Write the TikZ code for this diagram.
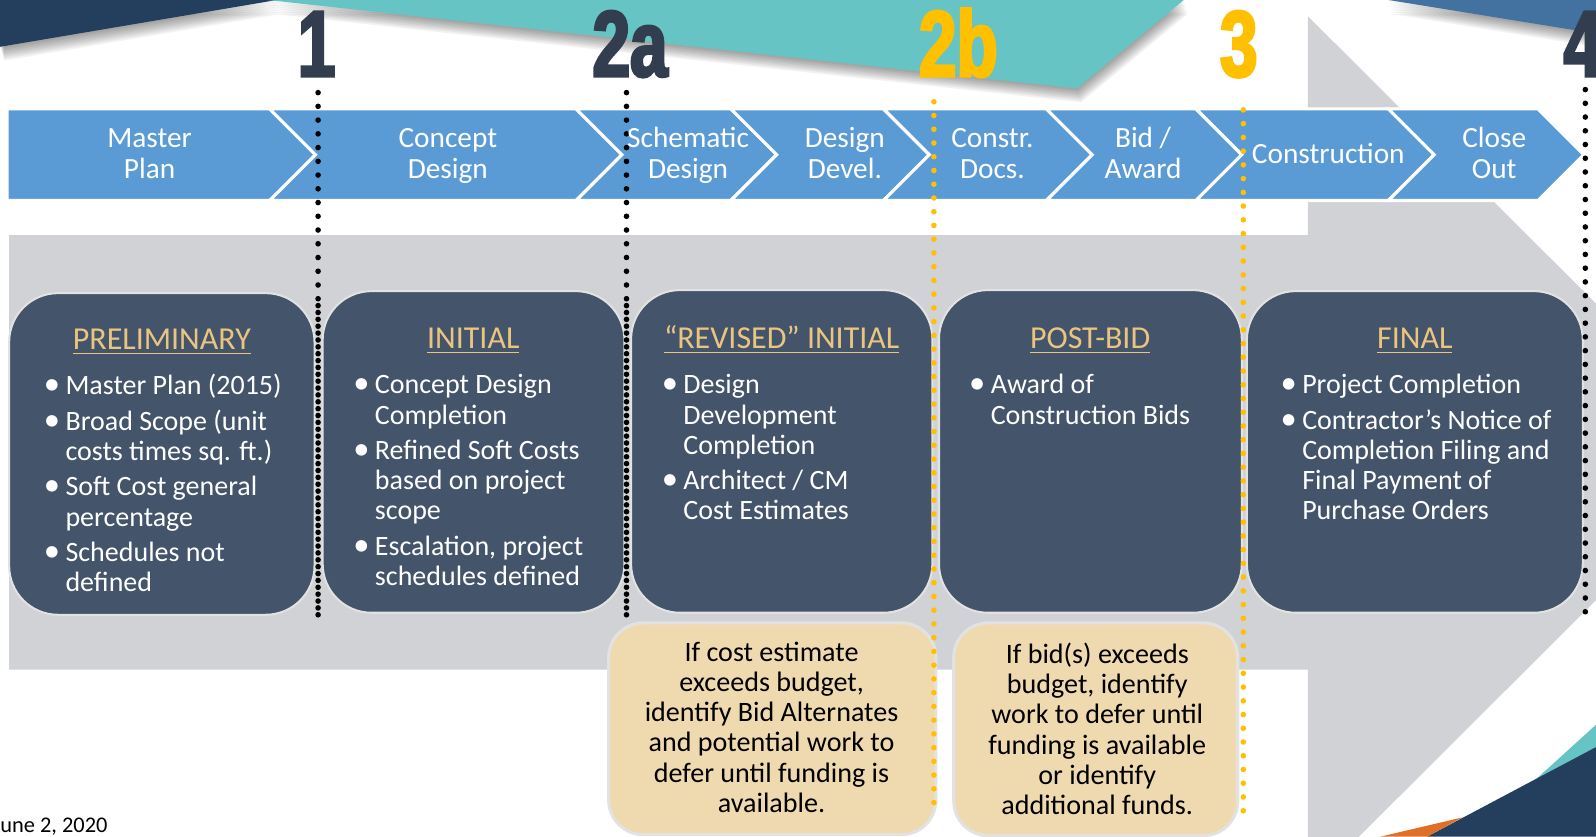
\documentclass[tikz,border=0pt]{standalone}
\usepackage{fontspec}
\setmainfont{Carlito}
\newfontfamily\numfont{Liberation Sans}[FakeStretch=0.72,FakeBold=3]
\definecolor{chev}{RGB}{91,155,213}
\definecolor{boxc}{RGB}{68,84,106}
\definecolor{bandc}{RGB}{208,210,214}
\definecolor{tanc}{RGB}{239,218,176}
\definecolor{hdrc}{RGB}{234,197,128}
\definecolor{numc}{RGB}{50,62,79}
\definecolor{goldc}{RGB}{255,192,0}
\definecolor{tealc}{RGB}{102,196,196}
\definecolor{navyc}{RGB}{36,62,94}
\definecolor{steelc}{RGB}{68,114,160}
\definecolor{orangec}{RGB}{224,112,40}
\definecolor{bordc}{RGB}{226,226,226}
\newcommand\hdr[1]{\setbox0\hbox{#1}\rlap{\rule[-2.6pt]{\wd0}{0.9pt}}\box0}
\newcommand\bul[1]{\par\hangindent=9pt\hangafter=1\noindent\hbox to 9pt{\hskip-1.6pt{\fontsize{16}{1}\selectfont\textbullet}\hss}#1\par}
\newcommand\gap{\vspace{2.5pt}}
\newcommand\bbox[1]{\parbox[t]{150pt}{#1}}
\newcommand\ctxt[1]{\parbox[t]{100pt}{\centering #1}}
\newcommand\tbox[1]{\parbox[t]{155pt}{\centering #1}}
\tikzset{
  chevst/.style={fill=chev, draw=white, line width=1.5pt, line join=miter},
  darkbox/.style={fill=boxc, draw=bordc, line width=1pt, rounded corners=24pt},
  tanbox/.style={fill=tanc, draw=bordc, line width=1.5pt, rounded corners=17pt},
  chevtxt/.style={anchor=base, inner sep=0pt, text=white, font=\fontsize{14.4}{15.3}\selectfont},
  hdrtxt/.style={anchor=base, inner sep=0pt, text=hdrc, font=\fontsize{15.7}{17}\selectfont},
  bultxt/.style={anchor=base west, inner sep=0pt, text=white, font=\fontsize{13.75}{14.85}\selectfont},
  tantxt/.style={anchor=base, inner sep=0pt, text=black, font=\fontsize{13.8}{14.8}\selectfont},
  numtxt/.style={anchor=base, inner sep=0pt, font=\numfont\bfseries\fontsize{46}{46}\selectfont},
  blackdots/.style={draw=black, line width=2.75pt, line cap=round, dash pattern=on 0pt off 6.75pt},
  golddots/.style={draw=goldc, line width=2.75pt, line cap=round, dash pattern=on 0pt off 6.75pt},
  shad/.style={fill=black, opacity=0.05}
}
\begin{document}
\begin{tikzpicture}[x=0.5pt,y=-0.5pt]
\useasboundingbox (0,0) rectangle (1568,822);
\clip (0,0) rectangle (1568,822);
\fill[white] (0,0) rectangle (1568,822);
% gray band with arrow head
\fill[bandc] (9,231) -- (1285,231) -- (1285,16) -- (1714,444) -- (1285,872) -- (1285,658) -- (9,658) -- cycle;
% top decorations with soft shadows
\foreach \k in {1,...,8}{
  \fill[shad, shift={(\k*0.5,\k*1.7)}] (0,0) -- (272,0) -- (0,46) -- cycle;
  \fill[shad, shift={(\k*0.5,\k*1.7)}] (263,0) -- (1163,0) -- (1058,87) -- cycle;
  \fill[shad, shift={(\k*0.3,\k*1.7)}] (1364,0) -- (1568,0) -- (1568,33) -- cycle;
}
\fill[navyc] (0,0) -- (272,0) -- (0,46) -- cycle;
\fill[tealc] (263,0) -- (1163,0) -- (1058,87) -- cycle;
\fill[steelc] (1364,0) -- (1568,0) -- (1568,33) -- cycle;
% bottom right decorations
\fill[tealc] (1568,712) -- (1480,792) -- (1568,792) -- cycle;
\fill[navyc] (1568,734) -- (1402,822) -- (1568,822) -- cycle;
\fill[orangec] (1356,822) -- (1437,803) -- (1402,822) -- cycle;
% chevron bar
\draw[chevst] (7,107) -- (265,107) -- (310,152) -- (265,197) -- (7,197) -- cycle;
\foreach \p/\t in {310/611, 611/763, 763/913, 913/1073, 1073/1220, 1220/1409, 1409/1556}
  \draw[chevst] (\p-45,107) -- (\t-45,107) -- (\t,152) -- (\t-45,197) -- (\p-45,197) -- (\p,152) -- cycle;
% dark boxes
\draw[darkbox] (9,288) rectangle (309,604);
\draw[darkbox] (317,286) rectangle (613.5,602);
\draw[darkbox] (620,285) rectangle (916,602);
\draw[darkbox] (922.5,285) rectangle (1220,602);
\draw[darkbox] (1225,286) rectangle (1555,602);
% tan boxes
\draw[tanbox] (598,612) rectangle (919.5,820);
\draw[tanbox] (937,612) rectangle (1216,821);
% dotted milestone lines
\coordinate (l1a) at (312.5,91);   \coordinate (l1b) at (312.5,605);
\coordinate (l1c) at (312.5,300.25); \coordinate (l1d) at (312.5,600);
\coordinate (l2a) at (615.5,91);   \coordinate (l2b) at (615.5,605);
\coordinate (l2c) at (615.5,300.25); \coordinate (l2d) at (615.5,600);
\coordinate (l3a) at (917.5,100);  \coordinate (l3b) at (917.5,790);
\coordinate (l4a) at (1221.5,108); \coordinate (l4b) at (1221.5,797);
\coordinate (l5a) at (1557.5,88);  \coordinate (l5b) at (1557.5,605);
\draw[blackdots] (l1a) -- (l1b);
\draw[blackdots] (l1c) -- (l1d);
\draw[blackdots] (l2a) -- (l2b);
\draw[blackdots] (l2c) -- (l2d);
\draw[golddots] (l3a) -- (l3b);
\draw[golddots] (l4a) -- (l4b);
\draw[blackdots] (l5a) -- (l5b);
% chevron labels
\node[chevtxt] (c1) at (147,145) {\ctxt{Master\\Plan}};
\node[chevtxt] (c2) at (440,145) {\ctxt{Concept\\Design}};
\node[chevtxt] (c3) at (676,145) {\ctxt{Schematic\\Design}};
\node[chevtxt] (c4) at (830,145) {\ctxt{Design\\Devel.}};
\node[chevtxt] (c5) at (975,145) {\ctxt{Constr.\\Docs.}};
\node[chevtxt] (c6) at (1123,145) {\ctxt{Bid /\\Award}};
\node[chevtxt] (c7) at (1305,161) {\ctxt{Construction}};
\node[chevtxt] (c8) at (1468,145) {\ctxt{Close\\Out}};
% headers
\node[hdrtxt] (h1) at (159,343) {\hdr{PRELIMINARY}};
\node[hdrtxt] (h2) at (465,342) {\hdr{INITIAL}};
\node[hdrtxt] (h3) at (768,342) {\hdr{“REVISED” INITIAL}};
\node[hdrtxt] (h4) at (1071,342) {\hdr{POST-BID}};
\node[hdrtxt] (h5) at (1390,342) {\hdr{FINAL}};
% bullet texts
\node[bultxt] (p1) at (46,388) {\bbox{\bul{Master Plan (2015)}\gap\bul{Broad Scope (unit\\costs times sq. ft.)}\gap\bul{Soft Cost general\\percentage}\gap\bul{Schedules not\\defined}}};
\node[bultxt] (p2) at (350,387) {\bbox{\bul{Concept Design\\Completion}\gap\bul{Refined Soft Costs\\based on project\\scope}\gap\bul{Escalation, project\\schedules defined}}};
\node[bultxt] (p3) at (653,387) {\bbox{\bul{Design\\Development\\Completion}\gap\bul{Architect / CM\\Cost Estimates}}};
\node[bultxt] (p4) at (955,387) {\bbox{\bul{Award of\\Construction Bids}}};
\node[bultxt] (p5) at (1261,387) {\bbox{\bul{Project Completion}\gap\bul{Contractor’s Notice of\\Completion Filing and\\Final Payment of\\Purchase Orders}}};
% tan texts
\node[tantxt] (n1) at (758,650) {\tbox{If cost estimate\\exceeds budget,\\identify Bid Alternates\\and potential work to\\defer until funding is\\available.}};
\node[tantxt] (n2) at (1078,652) {\tbox{If bid(s) exceeds\\budget, identify\\work to defer until\\funding is available\\or identify\\additional funds.}};
% milestone numbers
\node[numtxt, text=numc] (m1) at (311,75) {1};
\node[numtxt, text=numc] (m2a) at (619,75) {2a};
\node[numtxt, text=goldc] (m2b) at (941.5,75) {2b};
\node[numtxt, text=goldc] (m3) at (1217,75) {3};
\node[numtxt, text=numc, anchor=base west] (m4) at (1536,75) {4};
% footer
\node[anchor=base west, inner sep=0pt, font=\fontsize{11}{12}\selectfont] (date) at (0,818) {une 2, 2020};
\end{tikzpicture}
\end{document}
